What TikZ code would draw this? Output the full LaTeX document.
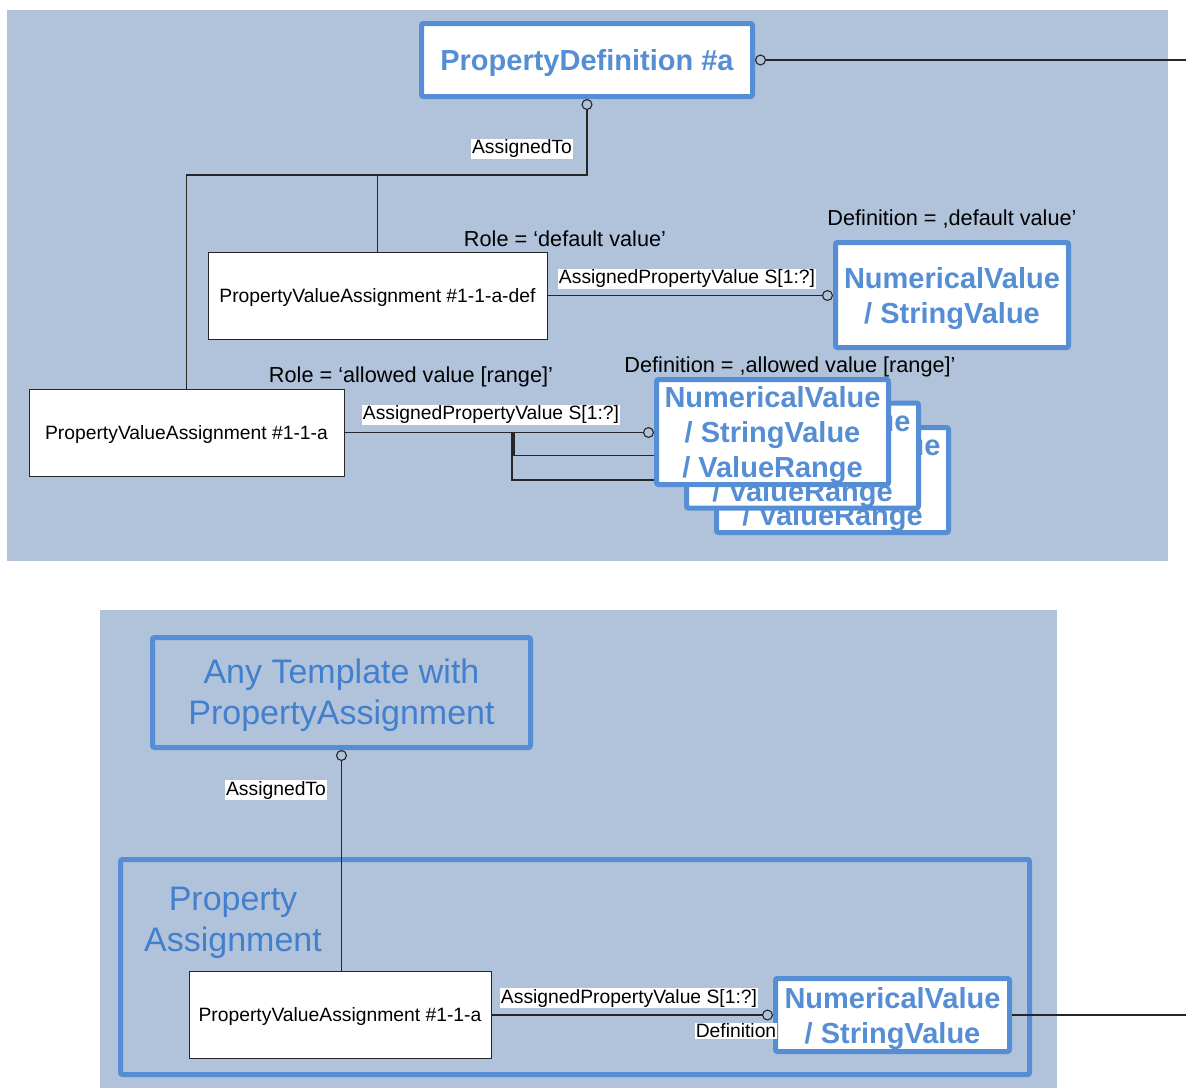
\documentclass[tikz,border=0pt]{standalone}
\usepackage{fontspec}
\setmainfont{Liberation Sans}
\usetikzlibrary{arrows.meta}
\definecolor{pvpanel}{RGB}{176,195,218}
\definecolor{pvblue}{RGB}{85,142,213}
\definecolor{pvtext}{RGB}{66,128,206}

\begin{document}
\begin{tikzpicture}[x=1pt, y=-1pt,
    conn/.style={line width=1.1pt, draw=black!85},
    ringstart/.style={{Circle[open, length=11pt, width=11pt]}-},
    ringend/.style={-{Circle[open, length=11pt, width=11pt]}},
    lift/.style={execute at begin node={\rule{0pt}{#1}}},
    classbox/.style={rectangle, draw=pvblue, line width=5pt, rounded corners=2pt, fill=white, align=center, text=pvblue, inner sep=0pt, text depth=0pt, font=\fontsize{29pt}{35pt}\selectfont\bfseries},
    framebox/.style={rectangle, draw=pvblue, line width=5pt, rounded corners=2pt, inner sep=0pt},
    frametext/.style={text=pvtext, align=center, inner sep=0pt, font=\fontsize{34pt}{41pt}\selectfont},
    pvabox/.style={rectangle, draw=black!85, line width=1pt, fill=white, inner sep=0pt, lift=18pt, font=\fontsize{19.3pt}{23pt}\selectfont},
    tag/.style={fill=white, inner sep=1pt, font=\fontsize{19.3pt}{23pt}\selectfont},
    note/.style={inner sep=0pt, font=\fontsize{21.7pt}{26pt}\selectfont}
]
\useasboundingbox (0,0) rectangle (1186,1088);

% === Panels ===
\fill[pvpanel] (7,10) rectangle (1168,561);
\fill[pvpanel] (100,610) rectangle (1057,1088);

% === Upper panel: property definition ===
\node[classbox, minimum width=331pt, minimum height=73pt] (pd) at (587,60) {PropertyDefinition \#a};
\node[pvabox, minimum width=339pt, minimum height=87pt] (pvadef) at (377.5,295.5) {PropertyValueAssignment \#1-1-a-def};
\node[pvabox, minimum width=315pt, minimum height=87pt] (pva) at (186.5,432.5) {PropertyValueAssignment \#1-1-a};
\node[classbox, minimum width=233pt, minimum height=105pt] (nvdef) at (952,295) {NumericalValue\\/ StringValue};

\coordinate (split) at (pvadef.north |- 0,175);
\coordinate (pdout) at (1186,60);
\draw[conn, ringstart] (pd.south) |- (split) -| (pva.north);
\draw[conn] (split) -- (pvadef.north);
\draw[conn, ringstart] (pd.east) -- (pdout);
\draw[conn, ringend] (pvadef.east) -- (pvadef.east -| nvdef.west);

% stacked value boxes (back to front)
\node[classbox, minimum width=232pt, minimum height=105pt] (nva3) at (832.5,480) {NumericalValue\\/ StringValue\\/ ValueRange};
\node[classbox, minimum width=232pt, minimum height=105pt] (nva2) at (802.5,455.5) {NumericalValue\\/ StringValue\\/ ValueRange};
\coordinate (br1) at (514,432);
\coordinate (br2) at (512,432);
\draw[conn] (br1) |- (nva2.west);
\draw[conn] (br2) |- (nva3.west);
\node[classbox, minimum width=232pt, minimum height=105pt] (nva1) at (772.5,432) {NumericalValue\\/ StringValue\\/ ValueRange};
\draw[conn, ringend] (pva.east) -- (pva.east -| nva1.west);

\node[tag] (atop) at (522,149) {AssignedTo};
\node[note] (roledef) at (565,239) {Role = ‘default value’};
\node[tag] (apvdef) at (687,279) {AssignedPropertyValue S[1:?]};
\node[note] (defdef) at (952,219) {Definition = ,default value’};
\node[note] (roleall) at (411,377) {Role = ‘allowed value [range]’};
\node[note] (defall) at (790,367) {Definition = ,allowed value [range]’};
\node[tag] (apvall) at (491,415) {AssignedPropertyValue S[1:?]};

% === Lower panel: template with property assignment ===
\node[framebox, minimum width=378pt, minimum height=110pt] (tmpl) at (341.5,692.5) {};
\node[frametext] (tmpltext) at (341.5,695) {Any Template with\\PropertyAssignment};
\node[framebox, minimum width=909pt, minimum height=215pt] (pa) at (575,967) {};
\node[frametext] (patext) at (233,922.5) {Property\\Assignment};
\node[pvabox, minimum width=302pt, minimum height=87pt] (pvab) at (340,1014.5) {PropertyValueAssignment \#1-1-a};
\node[classbox, minimum width=234pt, minimum height=73pt] (nvb) at (892.5,1015) {NumericalValue\\/ StringValue};

\coordinate (nvout) at (1186,1015);
\draw[conn, ringstart] (tmpl.south) -- (tmpl.south |- pvab.north);
\draw[conn, ringend] (pvab.east |- nvb.west) -- (nvb.west);
\draw[conn] (nvb.east) -- (nvout);

\node[tag] (abot) at (276,790) {AssignedTo};
\node[tag] (apvbot) at (629,998) {AssignedPropertyValue S[1:?]};
\node[tag] (defbot) at (736,1031) {Definition};

\end{tikzpicture}
\end{document}
